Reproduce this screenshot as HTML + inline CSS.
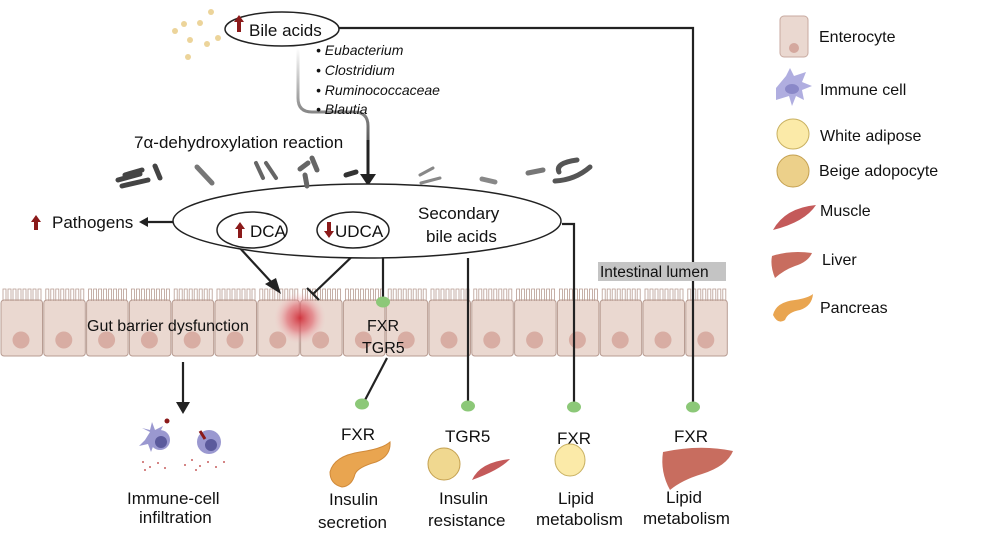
<!DOCTYPE html>
<html><head><meta charset="utf-8"><style>
body{margin:0;background:#fff;}
svg{display:block;font-family:"Liberation Sans",Arial,sans-serif;}
</style></head><body>
<svg id="s" width="999" height="542" viewBox="0 0 999 542" xmlns="http://www.w3.org/2000/svg">
<defs>
<radialGradient id="red"><stop offset="0" stop-color="#d0303a" stop-opacity="0.95"/><stop offset="0.5" stop-color="#e0606a" stop-opacity="0.6"/><stop offset="1" stop-color="#f4c0c4" stop-opacity="0"/></radialGradient>
<linearGradient id="fade" x1="0" y1="0" x2="0" y2="1"><stop offset="0" stop-color="#fff"/><stop offset="0.5" stop-color="#888"/><stop offset="1" stop-color="#222"/></linearGradient>
</defs>
<g id="epi"></g>
<circle cx="300" cy="318" r="26" fill="url(#red)"/>
<g stroke="#222" stroke-width="2.2" fill="none">
<path d="M339,28 H693 V405"/>
<path d="M562,224 H574 V405"/>
<path d="M468,258 V405"/>
<path d="M383,258 V298"/>
<path d="M387,358 L364,402"/>
<path d="M298,48 V98 Q298,112 312,112 H354 Q368,112 368,126 V176" stroke="url(#fade)" stroke-width="3"/>
<path d="M368,140 V176" stroke-width="3"/>
<path d="M173,222 H148"/>
<path d="M238,246 L273,284"/>
<path d="M362,247 L313,294"/>
<path d="M307,288 L319,300"/>
<path d="M183,362 V404"/>
</g>
<path d="M360,174 L376,174 L368,186 z" fill="#222"/>
<path d="M148,217 L139,222 L148,227 z" fill="#222"/>
<path d="M265,284 L281,294 L276,278 z" fill="#222"/>
<path d="M176,402 L190,402 L183,414 z" fill="#222"/>
<g fill="#8cc878">
<ellipse cx="383" cy="302" rx="7" ry="5.5"/><ellipse cx="362" cy="404" rx="7" ry="5.5"/><ellipse cx="468" cy="406" rx="7" ry="5.5"/><ellipse cx="574" cy="407" rx="7" ry="5.5"/><ellipse cx="693" cy="407" rx="7" ry="5.5"/>
</g>
<ellipse cx="367" cy="221" rx="194" ry="37" fill="#fff" stroke="#222" stroke-width="1.5"/>
<ellipse cx="252" cy="230" rx="35" ry="18" fill="#fff" stroke="#222" stroke-width="1.5"/>
<ellipse cx="353" cy="230" rx="36" ry="18" fill="#fff" stroke="#222" stroke-width="1.5"/>
<ellipse cx="282" cy="29" rx="57" ry="17" fill="#fff" stroke="#222" stroke-width="1.5"/>
<g fill="#8b1a1a">
<path d="M234,22 l5,-7 l5,7 h-3 v10 h-4 v-10 z"/>
<path d="M31,222 l5,-7 l5,7 h-3 v8 h-4 v-8 z"/>
<path d="M235,229 l5,-7 l5,7 h-3 v9 h-4 v-9 z"/>
<path d="M324,231 l5,7 l5,-7 h-3 v-9 h-4 v9 z"/>
</g>
<g fill="#ecd49a"><circle cx="211" cy="12" r="3"/><circle cx="184" cy="24" r="3"/><circle cx="200" cy="23" r="3"/><circle cx="175" cy="31" r="3"/><circle cx="190" cy="40" r="3"/><circle cx="207" cy="44" r="3"/><circle cx="218" cy="38" r="3"/><circle cx="188" cy="57" r="3"/></g>
<g stroke-linecap="round" fill="none">
<path d="M118,180 L140,174 M122,186 L148,180 M125,175 L142,170 M155,166 L160,178" stroke="#444" stroke-width="5"/>
<path d="M197,167 L212,183" stroke="#777" stroke-width="5"/>
<path d="M256,163 L263,178 M266,163 L276,178" stroke="#666" stroke-width="4"/>
<path d="M300,169 L308,163 M312,158 L317,170 M305,175 L307,186" stroke="#666" stroke-width="5"/>
<path d="M346,175 L356,172" stroke="#333" stroke-width="5"/>
<path d="M420,175 L433,168 M421,183 L440,178" stroke="#888" stroke-width="3"/>
<path d="M482,179 L495,182" stroke="#888" stroke-width="5"/>
<path d="M528,173 L543,170" stroke="#777" stroke-width="5"/>
<path d="M559,172 Q555,163 577,160 M555,181 Q575,180 590,167" stroke="#555" stroke-width="5"/>
</g>
<g font-size="17" fill="#111">
<text x="249" y="36">Bile acids</text>
<text x="134" y="148">7α-dehydroxylation reaction</text>
<text x="52" y="228">Pathogens</text>
<text x="250" y="237">DCA</text>
<text x="335" y="237">UDCA</text>
<text x="418" y="219">Secondary</text>
<text x="426" y="242">bile acids</text>
<text x="87" y="331" font-size="16">Gut barrier dysfunction</text>
<text x="367" y="331" font-size="16">FXR</text>
<text x="362" y="353" font-size="16">TGR5</text>
<text x="341" y="440">FXR</text>
<text x="445" y="442">TGR5</text>
<text x="557" y="444">FXR</text>
<text x="674" y="442">FXR</text>
<text x="127" y="504">Immune-cell</text>
<text x="139" y="523">infiltration</text>
<text x="329" y="505">Insulin</text>
<text x="318" y="528">secretion</text>
<text x="439" y="504">Insulin</text>
<text x="428" y="526">resistance</text>
<text x="558" y="504">Lipid</text>
<text x="536" y="525">metabolism</text>
<text x="666" y="503">Lipid</text>
<text x="643" y="524">metabolism</text>
</g>
<g font-size="14" font-style="italic" fill="#111">
<text x="316" y="55">• Eubacterium</text><text x="316" y="75">• Clostridium</text><text x="316" y="95">• Ruminococcaceae</text><text x="316" y="114">• Blautia</text>
</g>
<rect x="598" y="262" width="128" height="19" fill="#c4c4c4"/>
<text x="600" y="277" font-size="15.5" fill="#111">Intestinal lumen</text>
<g>
<path d="M150,432 l-8,-4 l8,2 l2,-8 l3,8 l8,-4 l-4,8 l9,3 l-9,2 l3,9 l-8,-4 l-3,8 l-3,-8 l-9,2 l6,-6 z" fill="#9a98d0"/>
<circle cx="160" cy="440" r="10" fill="#9a98d0"/><circle cx="161" cy="442" r="6" fill="#5b5a9c"/>
<circle cx="209" cy="442" r="12" fill="#9a98d0"/><circle cx="211" cy="445" r="6" fill="#5b5a9c"/>
<circle cx="167" cy="421" r="2.5" fill="#8b1a1a"/><path d="M200,431 l5,8" stroke="#8b1a1a" stroke-width="3"/>
<g fill="#c86060"><circle cx="143" cy="462" r="1"/><circle cx="150" cy="467" r="1"/><circle cx="158" cy="463" r="1"/><circle cx="165" cy="468" r="1"/><circle cx="185" cy="465" r="1"/><circle cx="192" cy="460" r="1"/><circle cx="200" cy="466" r="1"/><circle cx="208" cy="462" r="1"/><circle cx="216" cy="467" r="1"/><circle cx="224" cy="462" r="1"/><circle cx="145" cy="470" r="1"/><circle cx="196" cy="470" r="1"/></g>
</g>
<path d="M330,472 Q334,456 360,452 Q382,449 390,442 Q391,456 376,462 Q358,467 355,474 Q352,486 342,487 Q330,484 330,472 z" fill="#e9a550" stroke="#d08a3a"/>
<circle cx="444" cy="464" r="16" fill="#f0d890" stroke="#c4a050"/>
<path d="M472,480 Q480,462 510,459 Q500,470 472,480 z" fill="#c45a5a"/>
<ellipse cx="570" cy="460" rx="15" ry="16" fill="#fbeaa8" stroke="#c8b060"/>
<path d="M663,452 Q700,444 733,451 Q727,466 702,474 Q682,480 670,490 Q660,472 663,452 z" fill="#c86d5f"/>
<g>
<rect x="780" y="16" width="28" height="41" rx="4" fill="#ead8d0" stroke="#c8aaa0"/>
<circle cx="794" cy="48" r="5" fill="#d4a89e"/>
<path d="M776,88 l10,-12 l4,-8 l4,8 l12,-4 l-4,10 l10,4 l-10,4 l2,10 l-8,-4 l-4,10 l-3,-10 l-13,4 z" fill="#b0aee0"/>
<ellipse cx="792" cy="89" rx="7" ry="5" fill="#8a88c8"/>
<ellipse cx="793" cy="134" rx="16" ry="15" fill="#fbeaa8" stroke="#c8b060"/>
<circle cx="793" cy="171" r="16" fill="#ecd08a" stroke="#c4a050"/>
<path d="M773,230 Q785,208 816,205 Q805,222 773,230 z" fill="#c45a5a"/>
<path d="M772,256 Q790,250 812,253 Q808,262 795,266 Q784,270 775,278 Q770,266 772,256 z" fill="#c86d5f"/>
<path d="M773,315 Q776,302 795,300 Q808,298 813,294 Q812,306 800,310 Q788,312 785,320 Q778,325 773,315 z" fill="#e9a550"/>
</g>
<g font-size="16" fill="#111">
<text x="819" y="42">Enterocyte</text><text x="820" y="95">Immune cell</text><text x="820" y="141">White adipose</text><text x="819" y="176">Beige adopocyte</text><text x="820" y="216">Muscle</text><text x="822" y="265">Liver</text><text x="820" y="313">Pancreas</text>
</g>
</svg>
<script>
var g=document.getElementById('epi'),h='';
for(var i=0;i<17;i++){var x=i*42.8;
h+='<rect x="'+(x+1)+'" y="300" width="41.5" height="56" rx="3" fill="#ead8d0" stroke="#b89c92" stroke-width="1"/>';
h+='<circle cx="'+(x+21)+'" cy="340" r="8.5" fill="#d8ada3"/>';
for(var k=0;k<8;k++){var vx=x+3+k*5;h+='<path d="M'+vx+',301 V289 h3 V301" fill="none" stroke="#b89c92" stroke-width="0.8"/>';}}
g.innerHTML=h;
</script>
</body></html>
